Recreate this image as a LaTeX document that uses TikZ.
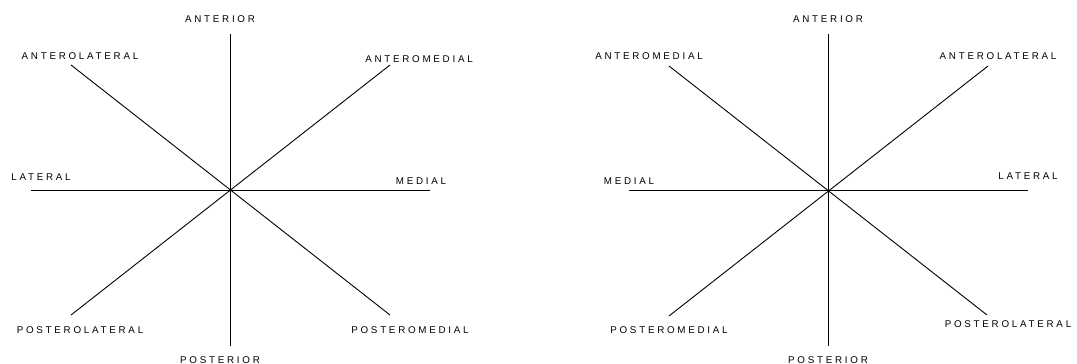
\documentclass[tikz,border=0pt]{standalone}
\usepackage{fontspec}
\newfontfamily\labfont[LetterSpace=28]{Liberation Sans}
\begin{document}
\begin{tikzpicture}[x=1pt,y=-1pt,
  lab/.style={inner sep=0pt,text height=7pt,text depth=0pt,anchor=center,font=\labfont\fontsize{9.8pt}{10pt}\selectfont},
  axis/.style={line width=0.9pt,black}]
\useasboundingbox (0,0) rectangle (1077,364);
% ---------- left diagram ----------
\coordinate (Lc) at (230,190);
\coordinate (Ltop) at (230,34);
\coordinate (Lbot) at (230,346);
\coordinate (Lleft) at (31,190);
\coordinate (Lright) at (430,190);
\coordinate (Lul) at (71,65);
\coordinate (Lur) at (390,65);
\coordinate (Lll) at (71,315);
\coordinate (Llr) at (390,315);
\draw[axis] (Ltop) -- (Lbot);
\draw[axis] (Lleft) -- (Lright);
\draw[axis] (Lul) -- (Llr);
\draw[axis] (Lur) -- (Lll);
\node[lab] (LA) at (220,19.5) {ANTERIOR};
\node[lab] (LAL) at (80,56) {ANTEROLATERAL};
\node[lab] (LAM) at (419,59) {ANTEROMEDIAL};
\node[lab] (LL) at (41,177) {LATERAL};
\node[lab] (LM) at (421,181) {MEDIAL};
\node[lab] (LPL) at (80,330) {POSTEROLATERAL};
\node[lab] (LPM) at (410,330) {POSTEROMEDIAL};
\node[lab] (LP) at (220,359.5) {POSTERIOR};
% ---------- right diagram ----------
\coordinate (Rc) at (828,190);
\coordinate (Rtop) at (828,34);
\coordinate (Rbot) at (828,346);
\coordinate (Rleft) at (629,190);
\coordinate (Rright) at (1028,190);
\coordinate (Rul) at (669,66);
\coordinate (Rur) at (988,66);
\coordinate (Rll) at (669,316);
\coordinate (Rlr) at (987,315);
\draw[axis] (Rtop) -- (Rbot);
\draw[axis] (Rleft) -- (Rright);
\draw[axis] (Rul) -- (Rlr);
\draw[axis] (Rur) -- (Rll);
\node[lab] (RA) at (828,19.5) {ANTERIOR};
\node[lab] (RAM) at (649,56) {ANTEROMEDIAL};
\node[lab] (RAL) at (998,56) {ANTEROLATERAL};
\node[lab] (RM) at (629,181) {MEDIAL};
\node[lab] (RL) at (1028,176) {LATERAL};
\node[lab] (RPM) at (669,330) {POSTEROMEDIAL};
\node[lab] (RPL) at (1008,324) {POSTEROLATERAL};
\node[lab] (RP) at (828,359.5) {POSTERIOR};
\end{tikzpicture}
\end{document}
